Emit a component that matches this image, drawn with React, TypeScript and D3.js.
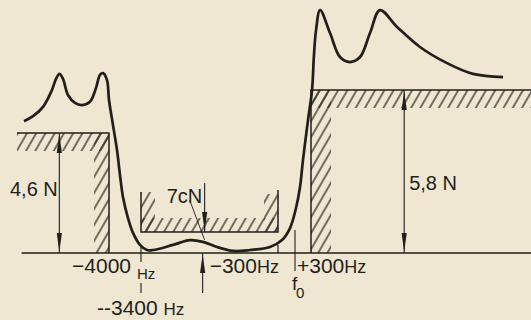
import React from "react";
import * as d3 from "d3";

// schematic tolerance diagram: frequency (Hz around f0) vs force (N)
const curveHz = [-4924, -4826, -4717, -4620, -4576, -4538, -4500, -4446, -4370, -4293, -4207, -4141, -4098, -4065, -4022, -4000, -3925, -3850, -3794, -3738, -3644, -3550, -3419, -3264, -3128, -2676, -2291, -1997, -1680, -1318, -933, -480, -229, -88, 19, 94, 150, 244, 308, 323, 339, 370, 447, 524, 601, 679, 756, 833, 965, 1142, 1351, 1552, 1784];
const curveN = [4.93, 5.07, 5.33, 5.8, 6.11, 6.25, 6.11, 5.66, 5.44, 5.38, 5.47, 5.86, 6.22, 6.27, 6.08, 5.52, 4.82, 3.82, 2.68, 1.67, 0.71, 0.067, 0.027, 0.01, 0.01, 0.027, 0.043, 0.037, 0.02, 0.007, 0.01, 0.02, 0.043, 0.25, 1.17, 2.13, 3.37, 4.96, 5.8, 6.78, 7.47, 8.03, 7.39, 6.72, 6.58, 6.72, 7.39, 8.03, 7.56, 7.0, 6.55, 6.25, 6.16];

// limits
const leftStop = { from: -5000, to: -4000, force: 4.6, label: "4,6 N", arrowAt: -4540 };
const rightStop = { from: 300, to: 2000, force: 5.8, label: "5,8 N", arrowAt: 1020 };
const passBand = { from: -3400, to: -300, force: 0.07, label: "7cN", arrowAt: -1960 };
const axisStart = -4950;

const ink = "#221e1a";
const paper = "#f0e7d3";
const font = "'Liberation Sans', Arial, sans-serif";

const xScale = d3.scaleLinear()
    .domain([-5000, -4000, -3400, -300, 0, 300, 2000])
    .range([17, 109, 141, 278, 295, 311, 531]);
const yScale = d3.scaleLinear()
    .domain([0, 0.07, 4.6, 5.8])
    .range([253, 232, 133, 90]);

function Arrow({ x, y, dir }: { x: number; y: number; dir: number }) {
    // dir -1 = pointing up, 1 = pointing down; tip at (x,y)
    const len = 19 * -dir;
    return <path d={`M${x},${y}L${x - 2.6},${y + len}L${x + 2.6},${y + len}Z`} fill={ink} />;
}

function App() {
    const pts = curveHz.map((h, i) => [xScale(h), yScale(curveN[i])] as [number, number]);
    const line = d3.line().curve(d3.curveCatmullRom.alpha(0.5));
    const y0 = yScale(0);

    const lx0 = xScale(leftStop.from), lx1 = xScale(leftStop.to), ly = yScale(leftStop.force);
    const rx0 = xScale(rightStop.from), rx1 = xScale(rightStop.to), ry = yScale(rightStop.force);
    const mx0 = xScale(passBand.from), mx1 = xScale(passBand.to), my = yScale(passBand.force);
    const la = xScale(leftStop.arrowAt), ra = xScale(rightStop.arrowAt), ma = xScale(passBand.arrowAt);
    const f0 = xScale(0);

    return (
        <svg width={531} height={320} style={{ position: "absolute", left: 0, top: 0, background: paper }}>
            <defs>
                <pattern id="hatch" patternUnits="userSpaceOnUse" width={8} height={8} patternTransform="rotate(30)">
                    <line x1={2} y1={0} x2={2} y2={8} stroke="#2e2a25" strokeWidth={1.3} />
                </pattern>
            </defs>
            <rect width={531} height={320} fill={paper} />

            {/* hatched bands */}
            <g fill="url(#hatch)">
                <rect x={lx0} y={ly} width={lx1 - lx0} height={18} />
                <rect x={lx1 - 15} y={ly} width={15} height={y0 - ly} />
                <rect x={rx0} y={ry} width={rx1 - rx0} height={18} />
                <rect x={rx0} y={ry} width={20} height={y0 - ry} />
                <rect x={mx0} y={my - 14} width={mx1 - mx0} height={14} />
                <rect x={mx0} y={my - 40} width={14} height={40} />
                <rect x={mx1 - 14} y={my - 38} width={14} height={38} />
            </g>

            <g stroke={ink} fill="none" strokeWidth={1.5}>
                <line x1={xScale(axisStart)} y1={y0} x2={531} y2={y0} />
                <polyline points={`${lx0},${ly} ${lx1},${ly} ${lx1},${y0}`} />
                <polyline points={`${rx1},${ry} ${rx0},${ry} ${rx0},${y0}`} />
                <polyline points={`${mx0},${my - 40} ${mx0},${my} ${mx1},${my} ${mx1},${my - 42}`} />
                <line x1={mx1} y1={y0 - 8} x2={mx1} y2={y0} strokeWidth={1.2} />
                <line x1={mx0} y1={y0 - 7} x2={mx0} y2={y0 + 40} strokeWidth={1.1} strokeDasharray="16 21 11" />
                <line x1={f0} y1={y0 - 23} x2={f0} y2={y0 + 18} strokeWidth={1.1} />
                {/* dimension lines */}
                <line x1={la} y1={ly} x2={la} y2={y0} strokeWidth={1.1} />
                <line x1={ra} y1={ry} x2={ra} y2={y0} strokeWidth={1.1} />
                <line x1={ma} y1={my - 49} x2={ma} y2={my} strokeWidth={1.1} />
                <line x1={ma - 2} y1={y0} x2={ma - 2} y2={y0 + 40} strokeWidth={1.1} />
                <line x1={ma - 15} y1={my - 32} x2={ma} y2={my + 8} strokeWidth={0.9} />
            </g>
            <Arrow x={la} y={ly + 1} dir={-1} />
            <Arrow x={la} y={y0 - 1} dir={1} />
            <Arrow x={ra} y={ry + 1} dir={-1} />
            <Arrow x={ra} y={y0 - 1} dir={1} />
            <Arrow x={ma} y={my - 1} dir={1} />
            <Arrow x={ma - 2} y={y0 + 1} dir={-1} />

            <path d={line(pts) || ""} fill="none" stroke={ink} strokeWidth={2.7} strokeLinejoin="round" />

            <g fill={ink} fontFamily={font} fontSize={20}>
                <text x={10} y={196}>{leftStop.label}</text>
                <text x={ra + 5} y={190}>{rightStop.label}</text>
                <text x={ma - 38} y={203}>{passBand.label}</text>
                <text x={lx1 + 22} y={273} textAnchor="end" fontSize={21}>−4000</text>
                <text x={lx1 + 28} y={279} fontSize={15}>Hz</text>
                <text x={97} y={315} fontSize={21}>--3400 <tspan fontSize={17}>Hz</tspan></text>
                <text x={ma + 5} y={273} fontSize={21}>−300<tspan fontSize={18}>Hz</tspan></text>
                <text x={f0 + 2} y={273} fontSize={21}>+300<tspan fontSize={18}>Hz</tspan></text>
                <text x={f0 - 3} y={290} fontSize={19}>f</text>
                <text x={f0 + 1} y={298} fontSize={15}>0</text>
            </g>
        </svg>
    );
}

export default App;
